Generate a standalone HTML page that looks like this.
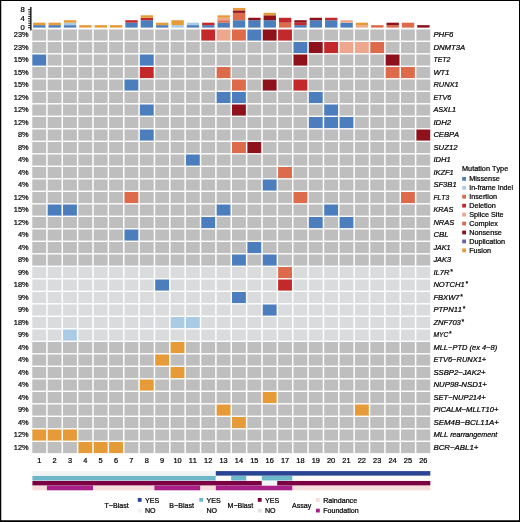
<!DOCTYPE html>
<html><head><meta charset="utf-8"><title>oncoprint</title>
<style>
html,body{margin:0;padding:0;background:#fff;}
body{width:520px;height:522px;overflow:hidden;position:relative;font-family:"Liberation Sans",sans-serif;}
svg{position:absolute;left:0;top:0;display:block;will-change:transform}
text{font-kerning:none;font-family:"Liberation Sans",sans-serif;font-size:7.4px;fill:#000;stroke:#000;stroke-width:0.22px}
.g{font-style:italic;font-size:7.6px}
.l{font-size:7.1px}
.t{font-size:7.3px}
</style></head><body>
<svg width="520" height="522" viewBox="0 0 520 522">
<rect x="0" y="0" width="520" height="522" fill="#fff"/>
<rect x="0" y="0" width="520" height="1" fill="#000"/><rect x="0" y="0" width="1.25" height="522" fill="#000"/><rect x="519" y="0" width="1" height="522" fill="#000"/><rect x="0" y="520.25" width="520" height="1.75" fill="#000"/>
<g stroke="#000" fill="none"><line x1="30.85" y1="7" x2="30.85" y2="30.6" stroke-width="1.3"/><line x1="28.0" y1="27.75" x2="30.5" y2="27.75" stroke-width="0.9"/><line x1="28.3" y1="25.49" x2="30.5" y2="25.49" stroke-width="0.9"/><line x1="28.3" y1="23.23" x2="30.5" y2="23.23" stroke-width="0.9"/><line x1="28.3" y1="20.97" x2="30.5" y2="20.97" stroke-width="0.9"/><line x1="28.0" y1="18.71" x2="30.5" y2="18.71" stroke-width="0.9"/><line x1="28.3" y1="16.45" x2="30.5" y2="16.45" stroke-width="0.9"/><line x1="28.3" y1="14.19" x2="30.5" y2="14.19" stroke-width="0.9"/><line x1="28.3" y1="11.93" x2="30.5" y2="11.93" stroke-width="0.9"/><line x1="28.0" y1="9.67" x2="30.5" y2="9.67" stroke-width="0.9"/></g>
<text x="24.7" y="30.35" text-anchor="end" style="font-size:7.7px">0</text><text x="24.7" y="21.31" text-anchor="end" style="font-size:7.7px">4</text><text x="24.7" y="12.27" text-anchor="end" style="font-size:7.7px">8</text><rect x="33.15" y="25.14" width="12.36" height="2.46" fill="#4c7dbd"/><rect x="33.15" y="22.68" width="12.36" height="2.46" fill="#e69a38"/><rect x="48.51" y="25.14" width="12.36" height="2.46" fill="#4c7dbd"/><rect x="48.51" y="22.68" width="12.36" height="2.46" fill="#e69a38"/><rect x="63.88" y="25.14" width="12.36" height="2.46" fill="#4c7dbd"/><rect x="63.88" y="22.68" width="12.36" height="2.46" fill="#a9cbe6"/><rect x="63.88" y="20.22" width="12.36" height="2.46" fill="#e69a38"/><rect x="79.24" y="25.14" width="12.36" height="2.46" fill="#e69a38"/><rect x="94.60" y="25.14" width="12.36" height="2.46" fill="#e69a38"/><rect x="109.96" y="25.14" width="12.36" height="2.46" fill="#e69a38"/><rect x="125.33" y="22.68" width="12.36" height="4.92" fill="#4c7dbd"/><rect x="125.33" y="20.22" width="12.36" height="2.46" fill="#c3292b"/><rect x="140.69" y="20.22" width="12.36" height="7.38" fill="#4c7dbd"/><rect x="140.69" y="17.76" width="12.36" height="2.46" fill="#c3292b"/><rect x="140.69" y="15.30" width="12.36" height="2.46" fill="#e69a38"/><rect x="156.05" y="25.14" width="12.36" height="2.46" fill="#4c7dbd"/><rect x="156.05" y="22.68" width="12.36" height="2.46" fill="#e69a38"/><rect x="171.42" y="25.14" width="12.36" height="2.46" fill="#a9cbe6"/><rect x="171.42" y="20.22" width="12.36" height="4.92" fill="#e69a38"/><rect x="186.78" y="25.14" width="12.36" height="2.46" fill="#4c7dbd"/><rect x="186.78" y="22.68" width="12.36" height="2.46" fill="#a9cbe6"/><rect x="202.14" y="25.14" width="12.36" height="2.46" fill="#4c7dbd"/><rect x="202.14" y="22.68" width="12.36" height="2.46" fill="#c3292b"/><rect x="217.51" y="22.68" width="12.36" height="4.92" fill="#4c7dbd"/><rect x="217.51" y="20.22" width="12.36" height="2.46" fill="#dd6a4b"/><rect x="217.51" y="17.76" width="12.36" height="2.46" fill="#eca78d"/><rect x="217.51" y="15.30" width="12.36" height="2.46" fill="#e69a38"/><rect x="232.87" y="20.22" width="12.36" height="7.38" fill="#4c7dbd"/><rect x="232.87" y="12.84" width="12.36" height="7.38" fill="#dd6a4b"/><rect x="232.87" y="10.38" width="12.36" height="2.46" fill="#8d121c"/><rect x="232.87" y="7.92" width="12.36" height="2.46" fill="#e69a38"/><rect x="248.23" y="20.22" width="12.36" height="7.38" fill="#4c7dbd"/><rect x="248.23" y="17.76" width="12.36" height="2.46" fill="#8d121c"/><rect x="263.60" y="20.22" width="12.36" height="7.38" fill="#4c7dbd"/><rect x="263.60" y="15.30" width="12.36" height="4.92" fill="#8d121c"/><rect x="263.60" y="12.84" width="12.36" height="2.46" fill="#e69a38"/><rect x="278.96" y="22.68" width="12.36" height="4.92" fill="#dd6a4b"/><rect x="278.96" y="17.76" width="12.36" height="4.92" fill="#c3292b"/><rect x="294.32" y="25.14" width="12.36" height="2.46" fill="#4c7dbd"/><rect x="294.32" y="22.68" width="12.36" height="2.46" fill="#c3292b"/><rect x="294.32" y="20.22" width="12.36" height="2.46" fill="#8d121c"/><rect x="309.68" y="20.22" width="12.36" height="7.38" fill="#4c7dbd"/><rect x="309.68" y="17.76" width="12.36" height="2.46" fill="#8d121c"/><rect x="325.05" y="20.22" width="12.36" height="7.38" fill="#4c7dbd"/><rect x="325.05" y="17.76" width="12.36" height="2.46" fill="#c3292b"/><rect x="340.41" y="22.68" width="12.36" height="4.92" fill="#4c7dbd"/><rect x="340.41" y="20.22" width="12.36" height="2.46" fill="#eca78d"/><rect x="355.77" y="25.14" width="12.36" height="2.46" fill="#eca78d"/><rect x="355.77" y="22.68" width="12.36" height="2.46" fill="#e69a38"/><rect x="371.14" y="25.14" width="12.36" height="2.46" fill="#dd6a4b"/><rect x="386.50" y="25.14" width="12.36" height="2.46" fill="#dd6a4b"/><rect x="386.50" y="22.68" width="12.36" height="2.46" fill="#8d121c"/><rect x="401.86" y="22.68" width="12.36" height="4.92" fill="#dd6a4b"/><rect x="417.23" y="25.14" width="12.36" height="2.46" fill="#8d121c"/>
<rect x="32.30" y="29.50" width="13.86" height="11.10" fill="#bebebe"/><rect x="47.66" y="29.50" width="13.86" height="11.10" fill="#bebebe"/><rect x="63.03" y="29.50" width="13.86" height="11.10" fill="#bebebe"/><rect x="78.39" y="29.50" width="13.86" height="11.10" fill="#bebebe"/><rect x="93.75" y="29.50" width="13.86" height="11.10" fill="#bebebe"/><rect x="109.11" y="29.50" width="13.86" height="11.10" fill="#bebebe"/><rect x="124.48" y="29.50" width="13.86" height="11.10" fill="#bebebe"/><rect x="139.84" y="29.50" width="13.86" height="11.10" fill="#bebebe"/><rect x="155.20" y="29.50" width="13.86" height="11.10" fill="#bebebe"/><rect x="170.57" y="29.50" width="13.86" height="11.10" fill="#bebebe"/><rect x="185.93" y="29.50" width="13.86" height="11.10" fill="#bebebe"/><rect x="201.29" y="29.50" width="13.86" height="11.10" fill="#c3292b"/><rect x="216.66" y="29.50" width="13.86" height="11.10" fill="#eca78d"/><rect x="232.02" y="29.50" width="13.86" height="11.10" fill="#dd6a4b"/><rect x="247.38" y="29.50" width="13.86" height="11.10" fill="#4c7dbd"/><rect x="262.75" y="29.50" width="13.86" height="11.10" fill="#8d121c"/><rect x="278.11" y="29.50" width="13.86" height="11.10" fill="#c3292b"/><rect x="293.47" y="29.50" width="13.86" height="11.10" fill="#bebebe"/><rect x="308.83" y="29.50" width="13.86" height="11.10" fill="#bebebe"/><rect x="324.20" y="29.50" width="13.86" height="11.10" fill="#bebebe"/><rect x="339.56" y="29.50" width="13.86" height="11.10" fill="#bebebe"/><rect x="354.92" y="29.50" width="13.86" height="11.10" fill="#bebebe"/><rect x="370.29" y="29.50" width="13.86" height="11.10" fill="#bebebe"/><rect x="385.65" y="29.50" width="13.86" height="11.10" fill="#bebebe"/><rect x="401.01" y="29.50" width="13.86" height="11.10" fill="#bebebe"/><rect x="416.38" y="29.50" width="13.86" height="11.10" fill="#bebebe"/><text x="28.6" y="37.05" text-anchor="end">23%</text><text class="g" x="433.4" y="37.05" textLength="19.83" lengthAdjust="spacingAndGlyphs">PHF6</text>
<rect x="32.30" y="42.00" width="13.86" height="11.10" fill="#bebebe"/><rect x="47.66" y="42.00" width="13.86" height="11.10" fill="#bebebe"/><rect x="63.03" y="42.00" width="13.86" height="11.10" fill="#bebebe"/><rect x="78.39" y="42.00" width="13.86" height="11.10" fill="#bebebe"/><rect x="93.75" y="42.00" width="13.86" height="11.10" fill="#bebebe"/><rect x="109.11" y="42.00" width="13.86" height="11.10" fill="#bebebe"/><rect x="124.48" y="42.00" width="13.86" height="11.10" fill="#bebebe"/><rect x="139.84" y="42.00" width="13.86" height="11.10" fill="#bebebe"/><rect x="155.20" y="42.00" width="13.86" height="11.10" fill="#bebebe"/><rect x="170.57" y="42.00" width="13.86" height="11.10" fill="#bebebe"/><rect x="185.93" y="42.00" width="13.86" height="11.10" fill="#bebebe"/><rect x="201.29" y="42.00" width="13.86" height="11.10" fill="#bebebe"/><rect x="216.66" y="42.00" width="13.86" height="11.10" fill="#bebebe"/><rect x="232.02" y="42.00" width="13.86" height="11.10" fill="#bebebe"/><rect x="247.38" y="42.00" width="13.86" height="11.10" fill="#bebebe"/><rect x="262.75" y="42.00" width="13.86" height="11.10" fill="#bebebe"/><rect x="278.11" y="42.00" width="13.86" height="11.10" fill="#bebebe"/><rect x="293.47" y="42.00" width="13.86" height="11.10" fill="#4c7dbd"/><rect x="308.83" y="42.00" width="13.86" height="11.10" fill="#8d121c"/><rect x="324.20" y="42.00" width="13.86" height="11.10" fill="#c3292b"/><rect x="339.56" y="42.00" width="13.86" height="11.10" fill="#eca78d"/><rect x="354.92" y="42.00" width="13.86" height="11.10" fill="#eca78d"/><rect x="370.29" y="42.00" width="13.86" height="11.10" fill="#dd6a4b"/><rect x="385.65" y="42.00" width="13.86" height="11.10" fill="#bebebe"/><rect x="401.01" y="42.00" width="13.86" height="11.10" fill="#bebebe"/><rect x="416.38" y="42.00" width="13.86" height="11.10" fill="#bebebe"/><text x="28.6" y="49.55" text-anchor="end">23%</text><text class="g" x="433.4" y="49.55" textLength="31.85" lengthAdjust="spacingAndGlyphs">DNMT3A</text>
<rect x="32.30" y="54.50" width="13.86" height="11.10" fill="#4c7dbd"/><rect x="47.66" y="54.50" width="13.86" height="11.10" fill="#bebebe"/><rect x="63.03" y="54.50" width="13.86" height="11.10" fill="#bebebe"/><rect x="78.39" y="54.50" width="13.86" height="11.10" fill="#bebebe"/><rect x="93.75" y="54.50" width="13.86" height="11.10" fill="#bebebe"/><rect x="109.11" y="54.50" width="13.86" height="11.10" fill="#bebebe"/><rect x="124.48" y="54.50" width="13.86" height="11.10" fill="#bebebe"/><rect x="139.84" y="54.50" width="13.86" height="11.10" fill="#4c7dbd"/><rect x="155.20" y="54.50" width="13.86" height="11.10" fill="#bebebe"/><rect x="170.57" y="54.50" width="13.86" height="11.10" fill="#bebebe"/><rect x="185.93" y="54.50" width="13.86" height="11.10" fill="#bebebe"/><rect x="201.29" y="54.50" width="13.86" height="11.10" fill="#bebebe"/><rect x="216.66" y="54.50" width="13.86" height="11.10" fill="#bebebe"/><rect x="232.02" y="54.50" width="13.86" height="11.10" fill="#bebebe"/><rect x="247.38" y="54.50" width="13.86" height="11.10" fill="#bebebe"/><rect x="262.75" y="54.50" width="13.86" height="11.10" fill="#bebebe"/><rect x="278.11" y="54.50" width="13.86" height="11.10" fill="#bebebe"/><rect x="293.47" y="54.50" width="13.86" height="11.10" fill="#8d121c"/><rect x="308.83" y="54.50" width="13.86" height="11.10" fill="#bebebe"/><rect x="324.20" y="54.50" width="13.86" height="11.10" fill="#bebebe"/><rect x="339.56" y="54.50" width="13.86" height="11.10" fill="#bebebe"/><rect x="354.92" y="54.50" width="13.86" height="11.10" fill="#bebebe"/><rect x="370.29" y="54.50" width="13.86" height="11.10" fill="#bebebe"/><rect x="385.65" y="54.50" width="13.86" height="11.10" fill="#8d121c"/><rect x="401.01" y="54.50" width="13.86" height="11.10" fill="#bebebe"/><rect x="416.38" y="54.50" width="13.86" height="11.10" fill="#bebebe"/><text x="28.6" y="62.05" text-anchor="end">15%</text><text class="g" x="433.4" y="62.05" textLength="17.08" lengthAdjust="spacingAndGlyphs">TET2</text>
<rect x="32.30" y="67.00" width="13.86" height="11.10" fill="#bebebe"/><rect x="47.66" y="67.00" width="13.86" height="11.10" fill="#bebebe"/><rect x="63.03" y="67.00" width="13.86" height="11.10" fill="#bebebe"/><rect x="78.39" y="67.00" width="13.86" height="11.10" fill="#bebebe"/><rect x="93.75" y="67.00" width="13.86" height="11.10" fill="#bebebe"/><rect x="109.11" y="67.00" width="13.86" height="11.10" fill="#bebebe"/><rect x="124.48" y="67.00" width="13.86" height="11.10" fill="#bebebe"/><rect x="139.84" y="67.00" width="13.86" height="11.10" fill="#c3292b"/><rect x="155.20" y="67.00" width="13.86" height="11.10" fill="#bebebe"/><rect x="170.57" y="67.00" width="13.86" height="11.10" fill="#bebebe"/><rect x="185.93" y="67.00" width="13.86" height="11.10" fill="#bebebe"/><rect x="201.29" y="67.00" width="13.86" height="11.10" fill="#bebebe"/><rect x="216.66" y="67.00" width="13.86" height="11.10" fill="#dd6a4b"/><rect x="232.02" y="67.00" width="13.86" height="11.10" fill="#bebebe"/><rect x="247.38" y="67.00" width="13.86" height="11.10" fill="#bebebe"/><rect x="262.75" y="67.00" width="13.86" height="11.10" fill="#bebebe"/><rect x="278.11" y="67.00" width="13.86" height="11.10" fill="#bebebe"/><rect x="293.47" y="67.00" width="13.86" height="11.10" fill="#bebebe"/><rect x="308.83" y="67.00" width="13.86" height="11.10" fill="#bebebe"/><rect x="324.20" y="67.00" width="13.86" height="11.10" fill="#bebebe"/><rect x="339.56" y="67.00" width="13.86" height="11.10" fill="#bebebe"/><rect x="354.92" y="67.00" width="13.86" height="11.10" fill="#bebebe"/><rect x="370.29" y="67.00" width="13.86" height="11.10" fill="#bebebe"/><rect x="385.65" y="67.00" width="13.86" height="11.10" fill="#dd6a4b"/><rect x="401.01" y="67.00" width="13.86" height="11.10" fill="#dd6a4b"/><rect x="416.38" y="67.00" width="13.86" height="11.10" fill="#bebebe"/><text x="28.6" y="74.55" text-anchor="end">15%</text><text class="g" x="433.4" y="74.55">WT1</text>
<rect x="32.30" y="79.50" width="13.86" height="11.10" fill="#bebebe"/><rect x="47.66" y="79.50" width="13.86" height="11.10" fill="#bebebe"/><rect x="63.03" y="79.50" width="13.86" height="11.10" fill="#bebebe"/><rect x="78.39" y="79.50" width="13.86" height="11.10" fill="#bebebe"/><rect x="93.75" y="79.50" width="13.86" height="11.10" fill="#bebebe"/><rect x="109.11" y="79.50" width="13.86" height="11.10" fill="#bebebe"/><rect x="124.48" y="79.50" width="13.86" height="11.10" fill="#4c7dbd"/><rect x="139.84" y="79.50" width="13.86" height="11.10" fill="#bebebe"/><rect x="155.20" y="79.50" width="13.86" height="11.10" fill="#bebebe"/><rect x="170.57" y="79.50" width="13.86" height="11.10" fill="#bebebe"/><rect x="185.93" y="79.50" width="13.86" height="11.10" fill="#bebebe"/><rect x="201.29" y="79.50" width="13.86" height="11.10" fill="#bebebe"/><rect x="216.66" y="79.50" width="13.86" height="11.10" fill="#bebebe"/><rect x="232.02" y="79.50" width="13.86" height="11.10" fill="#dd6a4b"/><rect x="247.38" y="79.50" width="13.86" height="11.10" fill="#bebebe"/><rect x="262.75" y="79.50" width="13.86" height="11.10" fill="#8d121c"/><rect x="278.11" y="79.50" width="13.86" height="11.10" fill="#bebebe"/><rect x="293.47" y="79.50" width="13.86" height="11.10" fill="#c3292b"/><rect x="308.83" y="79.50" width="13.86" height="11.10" fill="#bebebe"/><rect x="324.20" y="79.50" width="13.86" height="11.10" fill="#bebebe"/><rect x="339.56" y="79.50" width="13.86" height="11.10" fill="#bebebe"/><rect x="354.92" y="79.50" width="13.86" height="11.10" fill="#bebebe"/><rect x="370.29" y="79.50" width="13.86" height="11.10" fill="#bebebe"/><rect x="385.65" y="79.50" width="13.86" height="11.10" fill="#bebebe"/><rect x="401.01" y="79.50" width="13.86" height="11.10" fill="#bebebe"/><rect x="416.38" y="79.50" width="13.86" height="11.10" fill="#bebebe"/><text x="28.6" y="87.05" text-anchor="end">15%</text><text class="g" x="433.4" y="87.05" textLength="25.36" lengthAdjust="spacingAndGlyphs">RUNX1</text>
<rect x="32.30" y="92.00" width="13.86" height="11.10" fill="#bebebe"/><rect x="47.66" y="92.00" width="13.86" height="11.10" fill="#bebebe"/><rect x="63.03" y="92.00" width="13.86" height="11.10" fill="#bebebe"/><rect x="78.39" y="92.00" width="13.86" height="11.10" fill="#bebebe"/><rect x="93.75" y="92.00" width="13.86" height="11.10" fill="#bebebe"/><rect x="109.11" y="92.00" width="13.86" height="11.10" fill="#bebebe"/><rect x="124.48" y="92.00" width="13.86" height="11.10" fill="#bebebe"/><rect x="139.84" y="92.00" width="13.86" height="11.10" fill="#bebebe"/><rect x="155.20" y="92.00" width="13.86" height="11.10" fill="#bebebe"/><rect x="170.57" y="92.00" width="13.86" height="11.10" fill="#bebebe"/><rect x="185.93" y="92.00" width="13.86" height="11.10" fill="#bebebe"/><rect x="201.29" y="92.00" width="13.86" height="11.10" fill="#bebebe"/><rect x="216.66" y="92.00" width="13.86" height="11.10" fill="#4c7dbd"/><rect x="232.02" y="92.00" width="13.86" height="11.10" fill="#4c7dbd"/><rect x="247.38" y="92.00" width="13.86" height="11.10" fill="#bebebe"/><rect x="262.75" y="92.00" width="13.86" height="11.10" fill="#bebebe"/><rect x="278.11" y="92.00" width="13.86" height="11.10" fill="#bebebe"/><rect x="293.47" y="92.00" width="13.86" height="11.10" fill="#bebebe"/><rect x="308.83" y="92.00" width="13.86" height="11.10" fill="#4c7dbd"/><rect x="324.20" y="92.00" width="13.86" height="11.10" fill="#bebebe"/><rect x="339.56" y="92.00" width="13.86" height="11.10" fill="#bebebe"/><rect x="354.92" y="92.00" width="13.86" height="11.10" fill="#bebebe"/><rect x="370.29" y="92.00" width="13.86" height="11.10" fill="#bebebe"/><rect x="385.65" y="92.00" width="13.86" height="11.10" fill="#bebebe"/><rect x="401.01" y="92.00" width="13.86" height="11.10" fill="#bebebe"/><rect x="416.38" y="92.00" width="13.86" height="11.10" fill="#bebebe"/><text x="28.6" y="99.55" text-anchor="end">12%</text><text class="g" x="433.4" y="99.55" textLength="17.71" lengthAdjust="spacingAndGlyphs">ETV6</text>
<rect x="32.30" y="104.50" width="13.86" height="11.10" fill="#bebebe"/><rect x="47.66" y="104.50" width="13.86" height="11.10" fill="#bebebe"/><rect x="63.03" y="104.50" width="13.86" height="11.10" fill="#bebebe"/><rect x="78.39" y="104.50" width="13.86" height="11.10" fill="#bebebe"/><rect x="93.75" y="104.50" width="13.86" height="11.10" fill="#bebebe"/><rect x="109.11" y="104.50" width="13.86" height="11.10" fill="#bebebe"/><rect x="124.48" y="104.50" width="13.86" height="11.10" fill="#bebebe"/><rect x="139.84" y="104.50" width="13.86" height="11.10" fill="#4c7dbd"/><rect x="155.20" y="104.50" width="13.86" height="11.10" fill="#bebebe"/><rect x="170.57" y="104.50" width="13.86" height="11.10" fill="#bebebe"/><rect x="185.93" y="104.50" width="13.86" height="11.10" fill="#bebebe"/><rect x="201.29" y="104.50" width="13.86" height="11.10" fill="#bebebe"/><rect x="216.66" y="104.50" width="13.86" height="11.10" fill="#bebebe"/><rect x="232.02" y="104.50" width="13.86" height="11.10" fill="#8d121c"/><rect x="247.38" y="104.50" width="13.86" height="11.10" fill="#bebebe"/><rect x="262.75" y="104.50" width="13.86" height="11.10" fill="#bebebe"/><rect x="278.11" y="104.50" width="13.86" height="11.10" fill="#bebebe"/><rect x="293.47" y="104.50" width="13.86" height="11.10" fill="#bebebe"/><rect x="308.83" y="104.50" width="13.86" height="11.10" fill="#bebebe"/><rect x="324.20" y="104.50" width="13.86" height="11.10" fill="#4c7dbd"/><rect x="339.56" y="104.50" width="13.86" height="11.10" fill="#bebebe"/><rect x="354.92" y="104.50" width="13.86" height="11.10" fill="#bebebe"/><rect x="370.29" y="104.50" width="13.86" height="11.10" fill="#bebebe"/><rect x="385.65" y="104.50" width="13.86" height="11.10" fill="#bebebe"/><rect x="401.01" y="104.50" width="13.86" height="11.10" fill="#bebebe"/><rect x="416.38" y="104.50" width="13.86" height="11.10" fill="#bebebe"/><text x="28.6" y="112.05" text-anchor="end">12%</text><text class="g" x="433.4" y="112.05" textLength="22.66" lengthAdjust="spacingAndGlyphs">ASXL1</text>
<rect x="32.30" y="117.00" width="13.86" height="11.10" fill="#bebebe"/><rect x="47.66" y="117.00" width="13.86" height="11.10" fill="#bebebe"/><rect x="63.03" y="117.00" width="13.86" height="11.10" fill="#bebebe"/><rect x="78.39" y="117.00" width="13.86" height="11.10" fill="#bebebe"/><rect x="93.75" y="117.00" width="13.86" height="11.10" fill="#bebebe"/><rect x="109.11" y="117.00" width="13.86" height="11.10" fill="#bebebe"/><rect x="124.48" y="117.00" width="13.86" height="11.10" fill="#bebebe"/><rect x="139.84" y="117.00" width="13.86" height="11.10" fill="#bebebe"/><rect x="155.20" y="117.00" width="13.86" height="11.10" fill="#bebebe"/><rect x="170.57" y="117.00" width="13.86" height="11.10" fill="#bebebe"/><rect x="185.93" y="117.00" width="13.86" height="11.10" fill="#bebebe"/><rect x="201.29" y="117.00" width="13.86" height="11.10" fill="#bebebe"/><rect x="216.66" y="117.00" width="13.86" height="11.10" fill="#bebebe"/><rect x="232.02" y="117.00" width="13.86" height="11.10" fill="#bebebe"/><rect x="247.38" y="117.00" width="13.86" height="11.10" fill="#bebebe"/><rect x="262.75" y="117.00" width="13.86" height="11.10" fill="#bebebe"/><rect x="278.11" y="117.00" width="13.86" height="11.10" fill="#bebebe"/><rect x="293.47" y="117.00" width="13.86" height="11.10" fill="#bebebe"/><rect x="308.83" y="117.00" width="13.86" height="11.10" fill="#4c7dbd"/><rect x="324.20" y="117.00" width="13.86" height="11.10" fill="#4c7dbd"/><rect x="339.56" y="117.00" width="13.86" height="11.10" fill="#4c7dbd"/><rect x="354.92" y="117.00" width="13.86" height="11.10" fill="#bebebe"/><rect x="370.29" y="117.00" width="13.86" height="11.10" fill="#bebebe"/><rect x="385.65" y="117.00" width="13.86" height="11.10" fill="#bebebe"/><rect x="401.01" y="117.00" width="13.86" height="11.10" fill="#bebebe"/><rect x="416.38" y="117.00" width="13.86" height="11.10" fill="#bebebe"/><text x="28.6" y="124.55" text-anchor="end">12%</text><text class="g" x="433.4" y="124.55" textLength="17.72" lengthAdjust="spacingAndGlyphs">IDH2</text>
<rect x="32.30" y="129.50" width="13.86" height="11.10" fill="#bebebe"/><rect x="47.66" y="129.50" width="13.86" height="11.10" fill="#bebebe"/><rect x="63.03" y="129.50" width="13.86" height="11.10" fill="#bebebe"/><rect x="78.39" y="129.50" width="13.86" height="11.10" fill="#bebebe"/><rect x="93.75" y="129.50" width="13.86" height="11.10" fill="#bebebe"/><rect x="109.11" y="129.50" width="13.86" height="11.10" fill="#bebebe"/><rect x="124.48" y="129.50" width="13.86" height="11.10" fill="#bebebe"/><rect x="139.84" y="129.50" width="13.86" height="11.10" fill="#4c7dbd"/><rect x="155.20" y="129.50" width="13.86" height="11.10" fill="#bebebe"/><rect x="170.57" y="129.50" width="13.86" height="11.10" fill="#bebebe"/><rect x="185.93" y="129.50" width="13.86" height="11.10" fill="#bebebe"/><rect x="201.29" y="129.50" width="13.86" height="11.10" fill="#bebebe"/><rect x="216.66" y="129.50" width="13.86" height="11.10" fill="#bebebe"/><rect x="232.02" y="129.50" width="13.86" height="11.10" fill="#bebebe"/><rect x="247.38" y="129.50" width="13.86" height="11.10" fill="#bebebe"/><rect x="262.75" y="129.50" width="13.86" height="11.10" fill="#bebebe"/><rect x="278.11" y="129.50" width="13.86" height="11.10" fill="#bebebe"/><rect x="293.47" y="129.50" width="13.86" height="11.10" fill="#bebebe"/><rect x="308.83" y="129.50" width="13.86" height="11.10" fill="#bebebe"/><rect x="324.20" y="129.50" width="13.86" height="11.10" fill="#bebebe"/><rect x="339.56" y="129.50" width="13.86" height="11.10" fill="#bebebe"/><rect x="354.92" y="129.50" width="13.86" height="11.10" fill="#bebebe"/><rect x="370.29" y="129.50" width="13.86" height="11.10" fill="#bebebe"/><rect x="385.65" y="129.50" width="13.86" height="11.10" fill="#bebebe"/><rect x="401.01" y="129.50" width="13.86" height="11.10" fill="#bebebe"/><rect x="416.38" y="129.50" width="13.86" height="11.10" fill="#8d121c"/><text x="28.6" y="137.05" text-anchor="end">8%</text><text class="g" x="433.4" y="137.05">CEBPA</text>
<rect x="32.30" y="142.00" width="13.86" height="11.10" fill="#bebebe"/><rect x="47.66" y="142.00" width="13.86" height="11.10" fill="#bebebe"/><rect x="63.03" y="142.00" width="13.86" height="11.10" fill="#bebebe"/><rect x="78.39" y="142.00" width="13.86" height="11.10" fill="#bebebe"/><rect x="93.75" y="142.00" width="13.86" height="11.10" fill="#bebebe"/><rect x="109.11" y="142.00" width="13.86" height="11.10" fill="#bebebe"/><rect x="124.48" y="142.00" width="13.86" height="11.10" fill="#bebebe"/><rect x="139.84" y="142.00" width="13.86" height="11.10" fill="#bebebe"/><rect x="155.20" y="142.00" width="13.86" height="11.10" fill="#bebebe"/><rect x="170.57" y="142.00" width="13.86" height="11.10" fill="#bebebe"/><rect x="185.93" y="142.00" width="13.86" height="11.10" fill="#bebebe"/><rect x="201.29" y="142.00" width="13.86" height="11.10" fill="#bebebe"/><rect x="216.66" y="142.00" width="13.86" height="11.10" fill="#bebebe"/><rect x="232.02" y="142.00" width="13.86" height="11.10" fill="#dd6a4b"/><rect x="247.38" y="142.00" width="13.86" height="11.10" fill="#8d121c"/><rect x="262.75" y="142.00" width="13.86" height="11.10" fill="#bebebe"/><rect x="278.11" y="142.00" width="13.86" height="11.10" fill="#bebebe"/><rect x="293.47" y="142.00" width="13.86" height="11.10" fill="#bebebe"/><rect x="308.83" y="142.00" width="13.86" height="11.10" fill="#bebebe"/><rect x="324.20" y="142.00" width="13.86" height="11.10" fill="#bebebe"/><rect x="339.56" y="142.00" width="13.86" height="11.10" fill="#bebebe"/><rect x="354.92" y="142.00" width="13.86" height="11.10" fill="#bebebe"/><rect x="370.29" y="142.00" width="13.86" height="11.10" fill="#bebebe"/><rect x="385.65" y="142.00" width="13.86" height="11.10" fill="#bebebe"/><rect x="401.01" y="142.00" width="13.86" height="11.10" fill="#bebebe"/><rect x="416.38" y="142.00" width="13.86" height="11.10" fill="#bebebe"/><text x="28.6" y="149.55" text-anchor="end">8%</text><text class="g" x="433.4" y="149.55" textLength="24.25" lengthAdjust="spacingAndGlyphs">SUZ12</text>
<rect x="32.30" y="154.50" width="13.86" height="11.10" fill="#bebebe"/><rect x="47.66" y="154.50" width="13.86" height="11.10" fill="#bebebe"/><rect x="63.03" y="154.50" width="13.86" height="11.10" fill="#bebebe"/><rect x="78.39" y="154.50" width="13.86" height="11.10" fill="#bebebe"/><rect x="93.75" y="154.50" width="13.86" height="11.10" fill="#bebebe"/><rect x="109.11" y="154.50" width="13.86" height="11.10" fill="#bebebe"/><rect x="124.48" y="154.50" width="13.86" height="11.10" fill="#bebebe"/><rect x="139.84" y="154.50" width="13.86" height="11.10" fill="#bebebe"/><rect x="155.20" y="154.50" width="13.86" height="11.10" fill="#bebebe"/><rect x="170.57" y="154.50" width="13.86" height="11.10" fill="#bebebe"/><rect x="185.93" y="154.50" width="13.86" height="11.10" fill="#4c7dbd"/><rect x="201.29" y="154.50" width="13.86" height="11.10" fill="#bebebe"/><rect x="216.66" y="154.50" width="13.86" height="11.10" fill="#bebebe"/><rect x="232.02" y="154.50" width="13.86" height="11.10" fill="#bebebe"/><rect x="247.38" y="154.50" width="13.86" height="11.10" fill="#bebebe"/><rect x="262.75" y="154.50" width="13.86" height="11.10" fill="#bebebe"/><rect x="278.11" y="154.50" width="13.86" height="11.10" fill="#bebebe"/><rect x="293.47" y="154.50" width="13.86" height="11.10" fill="#bebebe"/><rect x="308.83" y="154.50" width="13.86" height="11.10" fill="#bebebe"/><rect x="324.20" y="154.50" width="13.86" height="11.10" fill="#bebebe"/><rect x="339.56" y="154.50" width="13.86" height="11.10" fill="#bebebe"/><rect x="354.92" y="154.50" width="13.86" height="11.10" fill="#bebebe"/><rect x="370.29" y="154.50" width="13.86" height="11.10" fill="#bebebe"/><rect x="385.65" y="154.50" width="13.86" height="11.10" fill="#bebebe"/><rect x="401.01" y="154.50" width="13.86" height="11.10" fill="#bebebe"/><rect x="416.38" y="154.50" width="13.86" height="11.10" fill="#bebebe"/><text x="28.6" y="162.05" text-anchor="end">4%</text><text class="g" x="433.4" y="162.05">IDH1</text>
<rect x="32.30" y="167.00" width="13.86" height="11.10" fill="#bebebe"/><rect x="47.66" y="167.00" width="13.86" height="11.10" fill="#bebebe"/><rect x="63.03" y="167.00" width="13.86" height="11.10" fill="#bebebe"/><rect x="78.39" y="167.00" width="13.86" height="11.10" fill="#bebebe"/><rect x="93.75" y="167.00" width="13.86" height="11.10" fill="#bebebe"/><rect x="109.11" y="167.00" width="13.86" height="11.10" fill="#bebebe"/><rect x="124.48" y="167.00" width="13.86" height="11.10" fill="#bebebe"/><rect x="139.84" y="167.00" width="13.86" height="11.10" fill="#bebebe"/><rect x="155.20" y="167.00" width="13.86" height="11.10" fill="#bebebe"/><rect x="170.57" y="167.00" width="13.86" height="11.10" fill="#bebebe"/><rect x="185.93" y="167.00" width="13.86" height="11.10" fill="#bebebe"/><rect x="201.29" y="167.00" width="13.86" height="11.10" fill="#bebebe"/><rect x="216.66" y="167.00" width="13.86" height="11.10" fill="#bebebe"/><rect x="232.02" y="167.00" width="13.86" height="11.10" fill="#bebebe"/><rect x="247.38" y="167.00" width="13.86" height="11.10" fill="#bebebe"/><rect x="262.75" y="167.00" width="13.86" height="11.10" fill="#bebebe"/><rect x="278.11" y="167.00" width="13.86" height="11.10" fill="#dd6a4b"/><rect x="293.47" y="167.00" width="13.86" height="11.10" fill="#bebebe"/><rect x="308.83" y="167.00" width="13.86" height="11.10" fill="#bebebe"/><rect x="324.20" y="167.00" width="13.86" height="11.10" fill="#bebebe"/><rect x="339.56" y="167.00" width="13.86" height="11.10" fill="#bebebe"/><rect x="354.92" y="167.00" width="13.86" height="11.10" fill="#bebebe"/><rect x="370.29" y="167.00" width="13.86" height="11.10" fill="#bebebe"/><rect x="385.65" y="167.00" width="13.86" height="11.10" fill="#bebebe"/><rect x="401.01" y="167.00" width="13.86" height="11.10" fill="#bebebe"/><rect x="416.38" y="167.00" width="13.86" height="11.10" fill="#bebebe"/><text x="28.6" y="174.55" text-anchor="end">4%</text><text class="g" x="433.4" y="174.55" textLength="20.29" lengthAdjust="spacingAndGlyphs">IKZF1</text>
<rect x="32.30" y="179.50" width="13.86" height="11.10" fill="#bebebe"/><rect x="47.66" y="179.50" width="13.86" height="11.10" fill="#bebebe"/><rect x="63.03" y="179.50" width="13.86" height="11.10" fill="#bebebe"/><rect x="78.39" y="179.50" width="13.86" height="11.10" fill="#bebebe"/><rect x="93.75" y="179.50" width="13.86" height="11.10" fill="#bebebe"/><rect x="109.11" y="179.50" width="13.86" height="11.10" fill="#bebebe"/><rect x="124.48" y="179.50" width="13.86" height="11.10" fill="#bebebe"/><rect x="139.84" y="179.50" width="13.86" height="11.10" fill="#bebebe"/><rect x="155.20" y="179.50" width="13.86" height="11.10" fill="#bebebe"/><rect x="170.57" y="179.50" width="13.86" height="11.10" fill="#bebebe"/><rect x="185.93" y="179.50" width="13.86" height="11.10" fill="#bebebe"/><rect x="201.29" y="179.50" width="13.86" height="11.10" fill="#bebebe"/><rect x="216.66" y="179.50" width="13.86" height="11.10" fill="#bebebe"/><rect x="232.02" y="179.50" width="13.86" height="11.10" fill="#bebebe"/><rect x="247.38" y="179.50" width="13.86" height="11.10" fill="#bebebe"/><rect x="262.75" y="179.50" width="13.86" height="11.10" fill="#4c7dbd"/><rect x="278.11" y="179.50" width="13.86" height="11.10" fill="#bebebe"/><rect x="293.47" y="179.50" width="13.86" height="11.10" fill="#bebebe"/><rect x="308.83" y="179.50" width="13.86" height="11.10" fill="#bebebe"/><rect x="324.20" y="179.50" width="13.86" height="11.10" fill="#bebebe"/><rect x="339.56" y="179.50" width="13.86" height="11.10" fill="#bebebe"/><rect x="354.92" y="179.50" width="13.86" height="11.10" fill="#bebebe"/><rect x="370.29" y="179.50" width="13.86" height="11.10" fill="#bebebe"/><rect x="385.65" y="179.50" width="13.86" height="11.10" fill="#bebebe"/><rect x="401.01" y="179.50" width="13.86" height="11.10" fill="#bebebe"/><rect x="416.38" y="179.50" width="13.86" height="11.10" fill="#bebebe"/><text x="28.6" y="187.05" text-anchor="end">4%</text><text class="g" x="433.4" y="187.05">SF3B1</text>
<rect x="32.30" y="192.00" width="13.86" height="11.10" fill="#bebebe"/><rect x="47.66" y="192.00" width="13.86" height="11.10" fill="#bebebe"/><rect x="63.03" y="192.00" width="13.86" height="11.10" fill="#bebebe"/><rect x="78.39" y="192.00" width="13.86" height="11.10" fill="#bebebe"/><rect x="93.75" y="192.00" width="13.86" height="11.10" fill="#bebebe"/><rect x="109.11" y="192.00" width="13.86" height="11.10" fill="#bebebe"/><rect x="124.48" y="192.00" width="13.86" height="11.10" fill="#dd6a4b"/><rect x="139.84" y="192.00" width="13.86" height="11.10" fill="#bebebe"/><rect x="155.20" y="192.00" width="13.86" height="11.10" fill="#bebebe"/><rect x="170.57" y="192.00" width="13.86" height="11.10" fill="#bebebe"/><rect x="185.93" y="192.00" width="13.86" height="11.10" fill="#bebebe"/><rect x="201.29" y="192.00" width="13.86" height="11.10" fill="#bebebe"/><rect x="216.66" y="192.00" width="13.86" height="11.10" fill="#bebebe"/><rect x="232.02" y="192.00" width="13.86" height="11.10" fill="#bebebe"/><rect x="247.38" y="192.00" width="13.86" height="11.10" fill="#bebebe"/><rect x="262.75" y="192.00" width="13.86" height="11.10" fill="#bebebe"/><rect x="278.11" y="192.00" width="13.86" height="11.10" fill="#bebebe"/><rect x="293.47" y="192.00" width="13.86" height="11.10" fill="#dd6a4b"/><rect x="308.83" y="192.00" width="13.86" height="11.10" fill="#bebebe"/><rect x="324.20" y="192.00" width="13.86" height="11.10" fill="#bebebe"/><rect x="339.56" y="192.00" width="13.86" height="11.10" fill="#bebebe"/><rect x="354.92" y="192.00" width="13.86" height="11.10" fill="#bebebe"/><rect x="370.29" y="192.00" width="13.86" height="11.10" fill="#bebebe"/><rect x="385.65" y="192.00" width="13.86" height="11.10" fill="#bebebe"/><rect x="401.01" y="192.00" width="13.86" height="11.10" fill="#dd6a4b"/><rect x="416.38" y="192.00" width="13.86" height="11.10" fill="#bebebe"/><text x="28.6" y="199.55" text-anchor="end">12%</text><text class="g" x="433.4" y="199.55" textLength="15.84" lengthAdjust="spacingAndGlyphs">FLT3</text>
<rect x="32.30" y="204.50" width="13.86" height="11.10" fill="#bebebe"/><rect x="47.66" y="204.50" width="13.86" height="11.10" fill="#4c7dbd"/><rect x="63.03" y="204.50" width="13.86" height="11.10" fill="#4c7dbd"/><rect x="78.39" y="204.50" width="13.86" height="11.10" fill="#bebebe"/><rect x="93.75" y="204.50" width="13.86" height="11.10" fill="#bebebe"/><rect x="109.11" y="204.50" width="13.86" height="11.10" fill="#bebebe"/><rect x="124.48" y="204.50" width="13.86" height="11.10" fill="#bebebe"/><rect x="139.84" y="204.50" width="13.86" height="11.10" fill="#bebebe"/><rect x="155.20" y="204.50" width="13.86" height="11.10" fill="#bebebe"/><rect x="170.57" y="204.50" width="13.86" height="11.10" fill="#bebebe"/><rect x="185.93" y="204.50" width="13.86" height="11.10" fill="#bebebe"/><rect x="201.29" y="204.50" width="13.86" height="11.10" fill="#bebebe"/><rect x="216.66" y="204.50" width="13.86" height="11.10" fill="#4c7dbd"/><rect x="232.02" y="204.50" width="13.86" height="11.10" fill="#bebebe"/><rect x="247.38" y="204.50" width="13.86" height="11.10" fill="#bebebe"/><rect x="262.75" y="204.50" width="13.86" height="11.10" fill="#bebebe"/><rect x="278.11" y="204.50" width="13.86" height="11.10" fill="#bebebe"/><rect x="293.47" y="204.50" width="13.86" height="11.10" fill="#bebebe"/><rect x="308.83" y="204.50" width="13.86" height="11.10" fill="#bebebe"/><rect x="324.20" y="204.50" width="13.86" height="11.10" fill="#4c7dbd"/><rect x="339.56" y="204.50" width="13.86" height="11.10" fill="#bebebe"/><rect x="354.92" y="204.50" width="13.86" height="11.10" fill="#bebebe"/><rect x="370.29" y="204.50" width="13.86" height="11.10" fill="#bebebe"/><rect x="385.65" y="204.50" width="13.86" height="11.10" fill="#bebebe"/><rect x="401.01" y="204.50" width="13.86" height="11.10" fill="#bebebe"/><rect x="416.38" y="204.50" width="13.86" height="11.10" fill="#bebebe"/><text x="28.6" y="212.05" text-anchor="end">15%</text><text class="g" x="433.4" y="212.05" textLength="19.90" lengthAdjust="spacingAndGlyphs">KRAS</text>
<rect x="32.30" y="217.00" width="13.86" height="11.10" fill="#bebebe"/><rect x="47.66" y="217.00" width="13.86" height="11.10" fill="#bebebe"/><rect x="63.03" y="217.00" width="13.86" height="11.10" fill="#bebebe"/><rect x="78.39" y="217.00" width="13.86" height="11.10" fill="#bebebe"/><rect x="93.75" y="217.00" width="13.86" height="11.10" fill="#bebebe"/><rect x="109.11" y="217.00" width="13.86" height="11.10" fill="#bebebe"/><rect x="124.48" y="217.00" width="13.86" height="11.10" fill="#bebebe"/><rect x="139.84" y="217.00" width="13.86" height="11.10" fill="#bebebe"/><rect x="155.20" y="217.00" width="13.86" height="11.10" fill="#bebebe"/><rect x="170.57" y="217.00" width="13.86" height="11.10" fill="#bebebe"/><rect x="185.93" y="217.00" width="13.86" height="11.10" fill="#bebebe"/><rect x="201.29" y="217.00" width="13.86" height="11.10" fill="#4c7dbd"/><rect x="216.66" y="217.00" width="13.86" height="11.10" fill="#bebebe"/><rect x="232.02" y="217.00" width="13.86" height="11.10" fill="#bebebe"/><rect x="247.38" y="217.00" width="13.86" height="11.10" fill="#bebebe"/><rect x="262.75" y="217.00" width="13.86" height="11.10" fill="#bebebe"/><rect x="278.11" y="217.00" width="13.86" height="11.10" fill="#bebebe"/><rect x="293.47" y="217.00" width="13.86" height="11.10" fill="#bebebe"/><rect x="308.83" y="217.00" width="13.86" height="11.10" fill="#4c7dbd"/><rect x="324.20" y="217.00" width="13.86" height="11.10" fill="#bebebe"/><rect x="339.56" y="217.00" width="13.86" height="11.10" fill="#4c7dbd"/><rect x="354.92" y="217.00" width="13.86" height="11.10" fill="#bebebe"/><rect x="370.29" y="217.00" width="13.86" height="11.10" fill="#bebebe"/><rect x="385.65" y="217.00" width="13.86" height="11.10" fill="#bebebe"/><rect x="401.01" y="217.00" width="13.86" height="11.10" fill="#bebebe"/><rect x="416.38" y="217.00" width="13.86" height="11.10" fill="#bebebe"/><text x="28.6" y="224.55" text-anchor="end">12%</text><text class="g" x="433.4" y="224.55" textLength="20.72" lengthAdjust="spacingAndGlyphs">NRAS</text>
<rect x="32.30" y="229.50" width="13.86" height="11.10" fill="#bebebe"/><rect x="47.66" y="229.50" width="13.86" height="11.10" fill="#bebebe"/><rect x="63.03" y="229.50" width="13.86" height="11.10" fill="#bebebe"/><rect x="78.39" y="229.50" width="13.86" height="11.10" fill="#bebebe"/><rect x="93.75" y="229.50" width="13.86" height="11.10" fill="#bebebe"/><rect x="109.11" y="229.50" width="13.86" height="11.10" fill="#bebebe"/><rect x="124.48" y="229.50" width="13.86" height="11.10" fill="#4c7dbd"/><rect x="139.84" y="229.50" width="13.86" height="11.10" fill="#bebebe"/><rect x="155.20" y="229.50" width="13.86" height="11.10" fill="#bebebe"/><rect x="170.57" y="229.50" width="13.86" height="11.10" fill="#bebebe"/><rect x="185.93" y="229.50" width="13.86" height="11.10" fill="#bebebe"/><rect x="201.29" y="229.50" width="13.86" height="11.10" fill="#bebebe"/><rect x="216.66" y="229.50" width="13.86" height="11.10" fill="#bebebe"/><rect x="232.02" y="229.50" width="13.86" height="11.10" fill="#bebebe"/><rect x="247.38" y="229.50" width="13.86" height="11.10" fill="#bebebe"/><rect x="262.75" y="229.50" width="13.86" height="11.10" fill="#bebebe"/><rect x="278.11" y="229.50" width="13.86" height="11.10" fill="#bebebe"/><rect x="293.47" y="229.50" width="13.86" height="11.10" fill="#bebebe"/><rect x="308.83" y="229.50" width="13.86" height="11.10" fill="#bebebe"/><rect x="324.20" y="229.50" width="13.86" height="11.10" fill="#bebebe"/><rect x="339.56" y="229.50" width="13.86" height="11.10" fill="#bebebe"/><rect x="354.92" y="229.50" width="13.86" height="11.10" fill="#bebebe"/><rect x="370.29" y="229.50" width="13.86" height="11.10" fill="#bebebe"/><rect x="385.65" y="229.50" width="13.86" height="11.10" fill="#bebebe"/><rect x="401.01" y="229.50" width="13.86" height="11.10" fill="#bebebe"/><rect x="416.38" y="229.50" width="13.86" height="11.10" fill="#bebebe"/><text x="28.6" y="237.05" text-anchor="end">4%</text><text class="g" x="433.4" y="237.05" textLength="15.18" lengthAdjust="spacingAndGlyphs">CBL</text>
<rect x="32.30" y="242.00" width="13.86" height="11.10" fill="#bebebe"/><rect x="47.66" y="242.00" width="13.86" height="11.10" fill="#bebebe"/><rect x="63.03" y="242.00" width="13.86" height="11.10" fill="#bebebe"/><rect x="78.39" y="242.00" width="13.86" height="11.10" fill="#bebebe"/><rect x="93.75" y="242.00" width="13.86" height="11.10" fill="#bebebe"/><rect x="109.11" y="242.00" width="13.86" height="11.10" fill="#bebebe"/><rect x="124.48" y="242.00" width="13.86" height="11.10" fill="#bebebe"/><rect x="139.84" y="242.00" width="13.86" height="11.10" fill="#bebebe"/><rect x="155.20" y="242.00" width="13.86" height="11.10" fill="#bebebe"/><rect x="170.57" y="242.00" width="13.86" height="11.10" fill="#bebebe"/><rect x="185.93" y="242.00" width="13.86" height="11.10" fill="#bebebe"/><rect x="201.29" y="242.00" width="13.86" height="11.10" fill="#bebebe"/><rect x="216.66" y="242.00" width="13.86" height="11.10" fill="#bebebe"/><rect x="232.02" y="242.00" width="13.86" height="11.10" fill="#bebebe"/><rect x="247.38" y="242.00" width="13.86" height="11.10" fill="#4c7dbd"/><rect x="262.75" y="242.00" width="13.86" height="11.10" fill="#bebebe"/><rect x="278.11" y="242.00" width="13.86" height="11.10" fill="#bebebe"/><rect x="293.47" y="242.00" width="13.86" height="11.10" fill="#bebebe"/><rect x="308.83" y="242.00" width="13.86" height="11.10" fill="#bebebe"/><rect x="324.20" y="242.00" width="13.86" height="11.10" fill="#bebebe"/><rect x="339.56" y="242.00" width="13.86" height="11.10" fill="#bebebe"/><rect x="354.92" y="242.00" width="13.86" height="11.10" fill="#bebebe"/><rect x="370.29" y="242.00" width="13.86" height="11.10" fill="#bebebe"/><rect x="385.65" y="242.00" width="13.86" height="11.10" fill="#bebebe"/><rect x="401.01" y="242.00" width="13.86" height="11.10" fill="#bebebe"/><rect x="416.38" y="242.00" width="13.86" height="11.10" fill="#bebebe"/><text x="28.6" y="249.55" text-anchor="end">4%</text><text class="g" x="433.4" y="249.55" textLength="17.17" lengthAdjust="spacingAndGlyphs">JAK1</text>
<rect x="32.30" y="254.50" width="13.86" height="11.10" fill="#bebebe"/><rect x="47.66" y="254.50" width="13.86" height="11.10" fill="#bebebe"/><rect x="63.03" y="254.50" width="13.86" height="11.10" fill="#bebebe"/><rect x="78.39" y="254.50" width="13.86" height="11.10" fill="#bebebe"/><rect x="93.75" y="254.50" width="13.86" height="11.10" fill="#bebebe"/><rect x="109.11" y="254.50" width="13.86" height="11.10" fill="#bebebe"/><rect x="124.48" y="254.50" width="13.86" height="11.10" fill="#bebebe"/><rect x="139.84" y="254.50" width="13.86" height="11.10" fill="#bebebe"/><rect x="155.20" y="254.50" width="13.86" height="11.10" fill="#bebebe"/><rect x="170.57" y="254.50" width="13.86" height="11.10" fill="#bebebe"/><rect x="185.93" y="254.50" width="13.86" height="11.10" fill="#bebebe"/><rect x="201.29" y="254.50" width="13.86" height="11.10" fill="#bebebe"/><rect x="216.66" y="254.50" width="13.86" height="11.10" fill="#bebebe"/><rect x="232.02" y="254.50" width="13.86" height="11.10" fill="#4c7dbd"/><rect x="247.38" y="254.50" width="13.86" height="11.10" fill="#bebebe"/><rect x="262.75" y="254.50" width="13.86" height="11.10" fill="#4c7dbd"/><rect x="278.11" y="254.50" width="13.86" height="11.10" fill="#bebebe"/><rect x="293.47" y="254.50" width="13.86" height="11.10" fill="#bebebe"/><rect x="308.83" y="254.50" width="13.86" height="11.10" fill="#bebebe"/><rect x="324.20" y="254.50" width="13.86" height="11.10" fill="#bebebe"/><rect x="339.56" y="254.50" width="13.86" height="11.10" fill="#bebebe"/><rect x="354.92" y="254.50" width="13.86" height="11.10" fill="#bebebe"/><rect x="370.29" y="254.50" width="13.86" height="11.10" fill="#bebebe"/><rect x="385.65" y="254.50" width="13.86" height="11.10" fill="#bebebe"/><rect x="401.01" y="254.50" width="13.86" height="11.10" fill="#bebebe"/><rect x="416.38" y="254.50" width="13.86" height="11.10" fill="#bebebe"/><text x="28.6" y="262.05" text-anchor="end">8%</text><text class="g" x="433.4" y="262.05" textLength="17.77" lengthAdjust="spacingAndGlyphs">JAK3</text>
<rect x="32.30" y="267.00" width="13.86" height="11.10" fill="#dadbdc"/><rect x="47.66" y="267.00" width="13.86" height="11.10" fill="#dadbdc"/><rect x="63.03" y="267.00" width="13.86" height="11.10" fill="#dadbdc"/><rect x="78.39" y="267.00" width="13.86" height="11.10" fill="#dadbdc"/><rect x="93.75" y="267.00" width="13.86" height="11.10" fill="#dadbdc"/><rect x="109.11" y="267.00" width="13.86" height="11.10" fill="#dadbdc"/><rect x="124.48" y="267.00" width="13.86" height="11.10" fill="#dadbdc"/><rect x="139.84" y="267.00" width="13.86" height="11.10" fill="#dadbdc"/><rect x="155.20" y="267.00" width="13.86" height="11.10" fill="#dadbdc"/><rect x="170.57" y="267.00" width="13.86" height="11.10" fill="#dadbdc"/><rect x="185.93" y="267.00" width="13.86" height="11.10" fill="#dadbdc"/><rect x="201.29" y="267.00" width="13.86" height="11.10" fill="#dadbdc"/><rect x="216.66" y="267.00" width="13.86" height="11.10" fill="#dadbdc"/><rect x="232.02" y="267.00" width="13.86" height="11.10" fill="#dadbdc"/><rect x="247.38" y="267.00" width="13.86" height="11.10" fill="#dadbdc"/><rect x="262.75" y="267.00" width="13.86" height="11.10" fill="#dadbdc"/><rect x="278.11" y="267.00" width="13.86" height="11.10" fill="#dd6a4b"/><rect x="293.47" y="267.00" width="13.86" height="11.10" fill="#dadbdc"/><rect x="308.83" y="267.00" width="13.86" height="11.10" fill="#dadbdc"/><rect x="324.20" y="267.00" width="13.86" height="11.10" fill="#dadbdc"/><rect x="339.56" y="267.00" width="13.86" height="11.10" fill="#dadbdc"/><rect x="354.92" y="267.00" width="13.86" height="11.10" fill="#dadbdc"/><rect x="370.29" y="267.00" width="13.86" height="11.10" fill="#dadbdc"/><rect x="385.65" y="267.00" width="13.86" height="11.10" fill="#dadbdc"/><rect x="401.01" y="267.00" width="13.86" height="11.10" fill="#dadbdc"/><rect x="416.38" y="267.00" width="13.86" height="11.10" fill="#dadbdc"/><text x="28.6" y="274.55" text-anchor="end">9%</text><text class="g" x="433.4" y="274.55">IL7R<tspan dx="0.5" dy="-0.9" style="font-size:6.8px">*</tspan></text>
<rect x="32.30" y="279.50" width="13.86" height="11.10" fill="#dadbdc"/><rect x="47.66" y="279.50" width="13.86" height="11.10" fill="#dadbdc"/><rect x="63.03" y="279.50" width="13.86" height="11.10" fill="#dadbdc"/><rect x="78.39" y="279.50" width="13.86" height="11.10" fill="#dadbdc"/><rect x="93.75" y="279.50" width="13.86" height="11.10" fill="#dadbdc"/><rect x="109.11" y="279.50" width="13.86" height="11.10" fill="#dadbdc"/><rect x="124.48" y="279.50" width="13.86" height="11.10" fill="#dadbdc"/><rect x="139.84" y="279.50" width="13.86" height="11.10" fill="#dadbdc"/><rect x="155.20" y="279.50" width="13.86" height="11.10" fill="#4c7dbd"/><rect x="170.57" y="279.50" width="13.86" height="11.10" fill="#dadbdc"/><rect x="185.93" y="279.50" width="13.86" height="11.10" fill="#dadbdc"/><rect x="201.29" y="279.50" width="13.86" height="11.10" fill="#dadbdc"/><rect x="216.66" y="279.50" width="13.86" height="11.10" fill="#dadbdc"/><rect x="232.02" y="279.50" width="13.86" height="11.10" fill="#dadbdc"/><rect x="247.38" y="279.50" width="13.86" height="11.10" fill="#dadbdc"/><rect x="262.75" y="279.50" width="13.86" height="11.10" fill="#dadbdc"/><rect x="278.11" y="279.50" width="13.86" height="11.10" fill="#c3292b"/><rect x="293.47" y="279.50" width="13.86" height="11.10" fill="#dadbdc"/><rect x="308.83" y="279.50" width="13.86" height="11.10" fill="#dadbdc"/><rect x="324.20" y="279.50" width="13.86" height="11.10" fill="#dadbdc"/><rect x="339.56" y="279.50" width="13.86" height="11.10" fill="#dadbdc"/><rect x="354.92" y="279.50" width="13.86" height="11.10" fill="#dadbdc"/><rect x="370.29" y="279.50" width="13.86" height="11.10" fill="#dadbdc"/><rect x="385.65" y="279.50" width="13.86" height="11.10" fill="#dadbdc"/><rect x="401.01" y="279.50" width="13.86" height="11.10" fill="#dadbdc"/><rect x="416.38" y="279.50" width="13.86" height="11.10" fill="#dadbdc"/><text x="28.6" y="287.05" text-anchor="end">18%</text><text class="g" x="433.4" y="287.05">NOTCH1<tspan dx="0.5" dy="-0.9" style="font-size:6.8px">*</tspan></text>
<rect x="32.30" y="292.00" width="13.86" height="11.10" fill="#dadbdc"/><rect x="47.66" y="292.00" width="13.86" height="11.10" fill="#dadbdc"/><rect x="63.03" y="292.00" width="13.86" height="11.10" fill="#dadbdc"/><rect x="78.39" y="292.00" width="13.86" height="11.10" fill="#dadbdc"/><rect x="93.75" y="292.00" width="13.86" height="11.10" fill="#dadbdc"/><rect x="109.11" y="292.00" width="13.86" height="11.10" fill="#dadbdc"/><rect x="124.48" y="292.00" width="13.86" height="11.10" fill="#dadbdc"/><rect x="139.84" y="292.00" width="13.86" height="11.10" fill="#dadbdc"/><rect x="155.20" y="292.00" width="13.86" height="11.10" fill="#dadbdc"/><rect x="170.57" y="292.00" width="13.86" height="11.10" fill="#dadbdc"/><rect x="185.93" y="292.00" width="13.86" height="11.10" fill="#dadbdc"/><rect x="201.29" y="292.00" width="13.86" height="11.10" fill="#dadbdc"/><rect x="216.66" y="292.00" width="13.86" height="11.10" fill="#dadbdc"/><rect x="232.02" y="292.00" width="13.86" height="11.10" fill="#4c7dbd"/><rect x="247.38" y="292.00" width="13.86" height="11.10" fill="#dadbdc"/><rect x="262.75" y="292.00" width="13.86" height="11.10" fill="#dadbdc"/><rect x="278.11" y="292.00" width="13.86" height="11.10" fill="#dadbdc"/><rect x="293.47" y="292.00" width="13.86" height="11.10" fill="#dadbdc"/><rect x="308.83" y="292.00" width="13.86" height="11.10" fill="#dadbdc"/><rect x="324.20" y="292.00" width="13.86" height="11.10" fill="#dadbdc"/><rect x="339.56" y="292.00" width="13.86" height="11.10" fill="#dadbdc"/><rect x="354.92" y="292.00" width="13.86" height="11.10" fill="#dadbdc"/><rect x="370.29" y="292.00" width="13.86" height="11.10" fill="#dadbdc"/><rect x="385.65" y="292.00" width="13.86" height="11.10" fill="#dadbdc"/><rect x="401.01" y="292.00" width="13.86" height="11.10" fill="#dadbdc"/><rect x="416.38" y="292.00" width="13.86" height="11.10" fill="#dadbdc"/><text x="28.6" y="299.55" text-anchor="end">9%</text><text class="g" x="433.4" y="299.55">FBXW7<tspan dx="0.5" dy="-0.9" style="font-size:6.8px">*</tspan></text>
<rect x="32.30" y="304.50" width="13.86" height="11.10" fill="#dadbdc"/><rect x="47.66" y="304.50" width="13.86" height="11.10" fill="#dadbdc"/><rect x="63.03" y="304.50" width="13.86" height="11.10" fill="#dadbdc"/><rect x="78.39" y="304.50" width="13.86" height="11.10" fill="#dadbdc"/><rect x="93.75" y="304.50" width="13.86" height="11.10" fill="#dadbdc"/><rect x="109.11" y="304.50" width="13.86" height="11.10" fill="#dadbdc"/><rect x="124.48" y="304.50" width="13.86" height="11.10" fill="#dadbdc"/><rect x="139.84" y="304.50" width="13.86" height="11.10" fill="#dadbdc"/><rect x="155.20" y="304.50" width="13.86" height="11.10" fill="#dadbdc"/><rect x="170.57" y="304.50" width="13.86" height="11.10" fill="#dadbdc"/><rect x="185.93" y="304.50" width="13.86" height="11.10" fill="#dadbdc"/><rect x="201.29" y="304.50" width="13.86" height="11.10" fill="#dadbdc"/><rect x="216.66" y="304.50" width="13.86" height="11.10" fill="#dadbdc"/><rect x="232.02" y="304.50" width="13.86" height="11.10" fill="#dadbdc"/><rect x="247.38" y="304.50" width="13.86" height="11.10" fill="#dadbdc"/><rect x="262.75" y="304.50" width="13.86" height="11.10" fill="#4c7dbd"/><rect x="278.11" y="304.50" width="13.86" height="11.10" fill="#dadbdc"/><rect x="293.47" y="304.50" width="13.86" height="11.10" fill="#dadbdc"/><rect x="308.83" y="304.50" width="13.86" height="11.10" fill="#dadbdc"/><rect x="324.20" y="304.50" width="13.86" height="11.10" fill="#dadbdc"/><rect x="339.56" y="304.50" width="13.86" height="11.10" fill="#dadbdc"/><rect x="354.92" y="304.50" width="13.86" height="11.10" fill="#dadbdc"/><rect x="370.29" y="304.50" width="13.86" height="11.10" fill="#dadbdc"/><rect x="385.65" y="304.50" width="13.86" height="11.10" fill="#dadbdc"/><rect x="401.01" y="304.50" width="13.86" height="11.10" fill="#dadbdc"/><rect x="416.38" y="304.50" width="13.86" height="11.10" fill="#dadbdc"/><text x="28.6" y="312.05" text-anchor="end">9%</text><text class="g" x="433.4" y="312.05">PTPN11<tspan dx="0.5" dy="-0.9" style="font-size:6.8px">*</tspan></text>
<rect x="32.30" y="317.00" width="13.86" height="11.10" fill="#dadbdc"/><rect x="47.66" y="317.00" width="13.86" height="11.10" fill="#dadbdc"/><rect x="63.03" y="317.00" width="13.86" height="11.10" fill="#dadbdc"/><rect x="78.39" y="317.00" width="13.86" height="11.10" fill="#dadbdc"/><rect x="93.75" y="317.00" width="13.86" height="11.10" fill="#dadbdc"/><rect x="109.11" y="317.00" width="13.86" height="11.10" fill="#dadbdc"/><rect x="124.48" y="317.00" width="13.86" height="11.10" fill="#dadbdc"/><rect x="139.84" y="317.00" width="13.86" height="11.10" fill="#dadbdc"/><rect x="155.20" y="317.00" width="13.86" height="11.10" fill="#dadbdc"/><rect x="170.57" y="317.00" width="13.86" height="11.10" fill="#a9cbe6"/><rect x="185.93" y="317.00" width="13.86" height="11.10" fill="#a9cbe6"/><rect x="201.29" y="317.00" width="13.86" height="11.10" fill="#dadbdc"/><rect x="216.66" y="317.00" width="13.86" height="11.10" fill="#dadbdc"/><rect x="232.02" y="317.00" width="13.86" height="11.10" fill="#dadbdc"/><rect x="247.38" y="317.00" width="13.86" height="11.10" fill="#dadbdc"/><rect x="262.75" y="317.00" width="13.86" height="11.10" fill="#dadbdc"/><rect x="278.11" y="317.00" width="13.86" height="11.10" fill="#dadbdc"/><rect x="293.47" y="317.00" width="13.86" height="11.10" fill="#dadbdc"/><rect x="308.83" y="317.00" width="13.86" height="11.10" fill="#dadbdc"/><rect x="324.20" y="317.00" width="13.86" height="11.10" fill="#dadbdc"/><rect x="339.56" y="317.00" width="13.86" height="11.10" fill="#dadbdc"/><rect x="354.92" y="317.00" width="13.86" height="11.10" fill="#dadbdc"/><rect x="370.29" y="317.00" width="13.86" height="11.10" fill="#dadbdc"/><rect x="385.65" y="317.00" width="13.86" height="11.10" fill="#dadbdc"/><rect x="401.01" y="317.00" width="13.86" height="11.10" fill="#dadbdc"/><rect x="416.38" y="317.00" width="13.86" height="11.10" fill="#dadbdc"/><text x="28.6" y="324.55" text-anchor="end">18%</text><text class="g" x="433.4" y="324.55">ZNF703<tspan dx="0.5" dy="-0.9" style="font-size:6.8px">*</tspan></text>
<rect x="32.30" y="329.50" width="13.86" height="11.10" fill="#dadbdc"/><rect x="47.66" y="329.50" width="13.86" height="11.10" fill="#dadbdc"/><rect x="63.03" y="329.50" width="13.86" height="11.10" fill="#a9cbe6"/><rect x="78.39" y="329.50" width="13.86" height="11.10" fill="#dadbdc"/><rect x="93.75" y="329.50" width="13.86" height="11.10" fill="#dadbdc"/><rect x="109.11" y="329.50" width="13.86" height="11.10" fill="#dadbdc"/><rect x="124.48" y="329.50" width="13.86" height="11.10" fill="#dadbdc"/><rect x="139.84" y="329.50" width="13.86" height="11.10" fill="#dadbdc"/><rect x="155.20" y="329.50" width="13.86" height="11.10" fill="#dadbdc"/><rect x="170.57" y="329.50" width="13.86" height="11.10" fill="#dadbdc"/><rect x="185.93" y="329.50" width="13.86" height="11.10" fill="#dadbdc"/><rect x="201.29" y="329.50" width="13.86" height="11.10" fill="#dadbdc"/><rect x="216.66" y="329.50" width="13.86" height="11.10" fill="#dadbdc"/><rect x="232.02" y="329.50" width="13.86" height="11.10" fill="#dadbdc"/><rect x="247.38" y="329.50" width="13.86" height="11.10" fill="#dadbdc"/><rect x="262.75" y="329.50" width="13.86" height="11.10" fill="#dadbdc"/><rect x="278.11" y="329.50" width="13.86" height="11.10" fill="#dadbdc"/><rect x="293.47" y="329.50" width="13.86" height="11.10" fill="#dadbdc"/><rect x="308.83" y="329.50" width="13.86" height="11.10" fill="#dadbdc"/><rect x="324.20" y="329.50" width="13.86" height="11.10" fill="#dadbdc"/><rect x="339.56" y="329.50" width="13.86" height="11.10" fill="#dadbdc"/><rect x="354.92" y="329.50" width="13.86" height="11.10" fill="#dadbdc"/><rect x="370.29" y="329.50" width="13.86" height="11.10" fill="#dadbdc"/><rect x="385.65" y="329.50" width="13.86" height="11.10" fill="#dadbdc"/><rect x="401.01" y="329.50" width="13.86" height="11.10" fill="#dadbdc"/><rect x="416.38" y="329.50" width="13.86" height="11.10" fill="#dadbdc"/><text x="28.6" y="337.05" text-anchor="end">9%</text><text class="g" x="433.4" y="337.05"><tspan textLength="14.89" lengthAdjust="spacingAndGlyphs">MYC</tspan><tspan dx="0.5" dy="-0.9" style="font-size:6.8px">*</tspan></text>
<rect x="32.30" y="342.00" width="13.86" height="11.10" fill="#bebebe"/><rect x="47.66" y="342.00" width="13.86" height="11.10" fill="#bebebe"/><rect x="63.03" y="342.00" width="13.86" height="11.10" fill="#bebebe"/><rect x="78.39" y="342.00" width="13.86" height="11.10" fill="#bebebe"/><rect x="93.75" y="342.00" width="13.86" height="11.10" fill="#bebebe"/><rect x="109.11" y="342.00" width="13.86" height="11.10" fill="#bebebe"/><rect x="124.48" y="342.00" width="13.86" height="11.10" fill="#bebebe"/><rect x="139.84" y="342.00" width="13.86" height="11.10" fill="#bebebe"/><rect x="155.20" y="342.00" width="13.86" height="11.10" fill="#bebebe"/><rect x="170.57" y="342.00" width="13.86" height="11.10" fill="#e69a38"/><rect x="185.93" y="342.00" width="13.86" height="11.10" fill="#bebebe"/><rect x="201.29" y="342.00" width="13.86" height="11.10" fill="#bebebe"/><rect x="216.66" y="342.00" width="13.86" height="11.10" fill="#bebebe"/><rect x="232.02" y="342.00" width="13.86" height="11.10" fill="#bebebe"/><rect x="247.38" y="342.00" width="13.86" height="11.10" fill="#bebebe"/><rect x="262.75" y="342.00" width="13.86" height="11.10" fill="#bebebe"/><rect x="278.11" y="342.00" width="13.86" height="11.10" fill="#bebebe"/><rect x="293.47" y="342.00" width="13.86" height="11.10" fill="#bebebe"/><rect x="308.83" y="342.00" width="13.86" height="11.10" fill="#bebebe"/><rect x="324.20" y="342.00" width="13.86" height="11.10" fill="#bebebe"/><rect x="339.56" y="342.00" width="13.86" height="11.10" fill="#bebebe"/><rect x="354.92" y="342.00" width="13.86" height="11.10" fill="#bebebe"/><rect x="370.29" y="342.00" width="13.86" height="11.10" fill="#bebebe"/><rect x="385.65" y="342.00" width="13.86" height="11.10" fill="#bebebe"/><rect x="401.01" y="342.00" width="13.86" height="11.10" fill="#bebebe"/><rect x="416.38" y="342.00" width="13.86" height="11.10" fill="#bebebe"/><text x="28.6" y="349.55" text-anchor="end">4%</text><text class="g" x="433.4" y="349.55" textLength="63.83" lengthAdjust="spacingAndGlyphs">MLL−PTD (ex 4−8)</text>
<rect x="32.30" y="354.50" width="13.86" height="11.10" fill="#bebebe"/><rect x="47.66" y="354.50" width="13.86" height="11.10" fill="#bebebe"/><rect x="63.03" y="354.50" width="13.86" height="11.10" fill="#bebebe"/><rect x="78.39" y="354.50" width="13.86" height="11.10" fill="#bebebe"/><rect x="93.75" y="354.50" width="13.86" height="11.10" fill="#bebebe"/><rect x="109.11" y="354.50" width="13.86" height="11.10" fill="#bebebe"/><rect x="124.48" y="354.50" width="13.86" height="11.10" fill="#bebebe"/><rect x="139.84" y="354.50" width="13.86" height="11.10" fill="#bebebe"/><rect x="155.20" y="354.50" width="13.86" height="11.10" fill="#e69a38"/><rect x="170.57" y="354.50" width="13.86" height="11.10" fill="#bebebe"/><rect x="185.93" y="354.50" width="13.86" height="11.10" fill="#bebebe"/><rect x="201.29" y="354.50" width="13.86" height="11.10" fill="#bebebe"/><rect x="216.66" y="354.50" width="13.86" height="11.10" fill="#bebebe"/><rect x="232.02" y="354.50" width="13.86" height="11.10" fill="#bebebe"/><rect x="247.38" y="354.50" width="13.86" height="11.10" fill="#bebebe"/><rect x="262.75" y="354.50" width="13.86" height="11.10" fill="#bebebe"/><rect x="278.11" y="354.50" width="13.86" height="11.10" fill="#bebebe"/><rect x="293.47" y="354.50" width="13.86" height="11.10" fill="#bebebe"/><rect x="308.83" y="354.50" width="13.86" height="11.10" fill="#bebebe"/><rect x="324.20" y="354.50" width="13.86" height="11.10" fill="#bebebe"/><rect x="339.56" y="354.50" width="13.86" height="11.10" fill="#bebebe"/><rect x="354.92" y="354.50" width="13.86" height="11.10" fill="#bebebe"/><rect x="370.29" y="354.50" width="13.86" height="11.10" fill="#bebebe"/><rect x="385.65" y="354.50" width="13.86" height="11.10" fill="#bebebe"/><rect x="401.01" y="354.50" width="13.86" height="11.10" fill="#bebebe"/><rect x="416.38" y="354.50" width="13.86" height="11.10" fill="#bebebe"/><text x="28.6" y="362.05" text-anchor="end">4%</text><text class="g" x="433.4" y="362.05" textLength="52.85" lengthAdjust="spacingAndGlyphs">ETV6−RUNX1+</text>
<rect x="32.30" y="367.00" width="13.86" height="11.10" fill="#bebebe"/><rect x="47.66" y="367.00" width="13.86" height="11.10" fill="#bebebe"/><rect x="63.03" y="367.00" width="13.86" height="11.10" fill="#bebebe"/><rect x="78.39" y="367.00" width="13.86" height="11.10" fill="#bebebe"/><rect x="93.75" y="367.00" width="13.86" height="11.10" fill="#bebebe"/><rect x="109.11" y="367.00" width="13.86" height="11.10" fill="#bebebe"/><rect x="124.48" y="367.00" width="13.86" height="11.10" fill="#bebebe"/><rect x="139.84" y="367.00" width="13.86" height="11.10" fill="#bebebe"/><rect x="155.20" y="367.00" width="13.86" height="11.10" fill="#bebebe"/><rect x="170.57" y="367.00" width="13.86" height="11.10" fill="#e69a38"/><rect x="185.93" y="367.00" width="13.86" height="11.10" fill="#bebebe"/><rect x="201.29" y="367.00" width="13.86" height="11.10" fill="#bebebe"/><rect x="216.66" y="367.00" width="13.86" height="11.10" fill="#bebebe"/><rect x="232.02" y="367.00" width="13.86" height="11.10" fill="#bebebe"/><rect x="247.38" y="367.00" width="13.86" height="11.10" fill="#bebebe"/><rect x="262.75" y="367.00" width="13.86" height="11.10" fill="#bebebe"/><rect x="278.11" y="367.00" width="13.86" height="11.10" fill="#bebebe"/><rect x="293.47" y="367.00" width="13.86" height="11.10" fill="#bebebe"/><rect x="308.83" y="367.00" width="13.86" height="11.10" fill="#bebebe"/><rect x="324.20" y="367.00" width="13.86" height="11.10" fill="#bebebe"/><rect x="339.56" y="367.00" width="13.86" height="11.10" fill="#bebebe"/><rect x="354.92" y="367.00" width="13.86" height="11.10" fill="#bebebe"/><rect x="370.29" y="367.00" width="13.86" height="11.10" fill="#bebebe"/><rect x="385.65" y="367.00" width="13.86" height="11.10" fill="#bebebe"/><rect x="401.01" y="367.00" width="13.86" height="11.10" fill="#bebebe"/><rect x="416.38" y="367.00" width="13.86" height="11.10" fill="#bebebe"/><text x="28.6" y="374.55" text-anchor="end">4%</text><text class="g" x="433.4" y="374.55" textLength="52.14" lengthAdjust="spacingAndGlyphs">SSBP2−JAK2+</text>
<rect x="32.30" y="379.50" width="13.86" height="11.10" fill="#bebebe"/><rect x="47.66" y="379.50" width="13.86" height="11.10" fill="#bebebe"/><rect x="63.03" y="379.50" width="13.86" height="11.10" fill="#bebebe"/><rect x="78.39" y="379.50" width="13.86" height="11.10" fill="#bebebe"/><rect x="93.75" y="379.50" width="13.86" height="11.10" fill="#bebebe"/><rect x="109.11" y="379.50" width="13.86" height="11.10" fill="#bebebe"/><rect x="124.48" y="379.50" width="13.86" height="11.10" fill="#bebebe"/><rect x="139.84" y="379.50" width="13.86" height="11.10" fill="#e69a38"/><rect x="155.20" y="379.50" width="13.86" height="11.10" fill="#bebebe"/><rect x="170.57" y="379.50" width="13.86" height="11.10" fill="#bebebe"/><rect x="185.93" y="379.50" width="13.86" height="11.10" fill="#bebebe"/><rect x="201.29" y="379.50" width="13.86" height="11.10" fill="#bebebe"/><rect x="216.66" y="379.50" width="13.86" height="11.10" fill="#bebebe"/><rect x="232.02" y="379.50" width="13.86" height="11.10" fill="#bebebe"/><rect x="247.38" y="379.50" width="13.86" height="11.10" fill="#bebebe"/><rect x="262.75" y="379.50" width="13.86" height="11.10" fill="#bebebe"/><rect x="278.11" y="379.50" width="13.86" height="11.10" fill="#bebebe"/><rect x="293.47" y="379.50" width="13.86" height="11.10" fill="#bebebe"/><rect x="308.83" y="379.50" width="13.86" height="11.10" fill="#bebebe"/><rect x="324.20" y="379.50" width="13.86" height="11.10" fill="#bebebe"/><rect x="339.56" y="379.50" width="13.86" height="11.10" fill="#bebebe"/><rect x="354.92" y="379.50" width="13.86" height="11.10" fill="#bebebe"/><rect x="370.29" y="379.50" width="13.86" height="11.10" fill="#bebebe"/><rect x="385.65" y="379.50" width="13.86" height="11.10" fill="#bebebe"/><rect x="401.01" y="379.50" width="13.86" height="11.10" fill="#bebebe"/><rect x="416.38" y="379.50" width="13.86" height="11.10" fill="#bebebe"/><text x="28.6" y="387.05" text-anchor="end">4%</text><text class="g" x="433.4" y="387.05" textLength="53.54" lengthAdjust="spacingAndGlyphs">NUP98-NSD1+</text>
<rect x="32.30" y="392.00" width="13.86" height="11.10" fill="#bebebe"/><rect x="47.66" y="392.00" width="13.86" height="11.10" fill="#bebebe"/><rect x="63.03" y="392.00" width="13.86" height="11.10" fill="#bebebe"/><rect x="78.39" y="392.00" width="13.86" height="11.10" fill="#bebebe"/><rect x="93.75" y="392.00" width="13.86" height="11.10" fill="#bebebe"/><rect x="109.11" y="392.00" width="13.86" height="11.10" fill="#bebebe"/><rect x="124.48" y="392.00" width="13.86" height="11.10" fill="#bebebe"/><rect x="139.84" y="392.00" width="13.86" height="11.10" fill="#bebebe"/><rect x="155.20" y="392.00" width="13.86" height="11.10" fill="#bebebe"/><rect x="170.57" y="392.00" width="13.86" height="11.10" fill="#bebebe"/><rect x="185.93" y="392.00" width="13.86" height="11.10" fill="#bebebe"/><rect x="201.29" y="392.00" width="13.86" height="11.10" fill="#bebebe"/><rect x="216.66" y="392.00" width="13.86" height="11.10" fill="#bebebe"/><rect x="232.02" y="392.00" width="13.86" height="11.10" fill="#bebebe"/><rect x="247.38" y="392.00" width="13.86" height="11.10" fill="#bebebe"/><rect x="262.75" y="392.00" width="13.86" height="11.10" fill="#e69a38"/><rect x="278.11" y="392.00" width="13.86" height="11.10" fill="#bebebe"/><rect x="293.47" y="392.00" width="13.86" height="11.10" fill="#bebebe"/><rect x="308.83" y="392.00" width="13.86" height="11.10" fill="#bebebe"/><rect x="324.20" y="392.00" width="13.86" height="11.10" fill="#bebebe"/><rect x="339.56" y="392.00" width="13.86" height="11.10" fill="#bebebe"/><rect x="354.92" y="392.00" width="13.86" height="11.10" fill="#bebebe"/><rect x="370.29" y="392.00" width="13.86" height="11.10" fill="#bebebe"/><rect x="385.65" y="392.00" width="13.86" height="11.10" fill="#bebebe"/><rect x="401.01" y="392.00" width="13.86" height="11.10" fill="#bebebe"/><rect x="416.38" y="392.00" width="13.86" height="11.10" fill="#bebebe"/><text x="28.6" y="399.55" text-anchor="end">4%</text><text class="g" x="433.4" y="399.55">SET−NUP214+</text>
<rect x="32.30" y="404.50" width="13.86" height="11.10" fill="#bebebe"/><rect x="47.66" y="404.50" width="13.86" height="11.10" fill="#bebebe"/><rect x="63.03" y="404.50" width="13.86" height="11.10" fill="#bebebe"/><rect x="78.39" y="404.50" width="13.86" height="11.10" fill="#bebebe"/><rect x="93.75" y="404.50" width="13.86" height="11.10" fill="#bebebe"/><rect x="109.11" y="404.50" width="13.86" height="11.10" fill="#bebebe"/><rect x="124.48" y="404.50" width="13.86" height="11.10" fill="#bebebe"/><rect x="139.84" y="404.50" width="13.86" height="11.10" fill="#bebebe"/><rect x="155.20" y="404.50" width="13.86" height="11.10" fill="#bebebe"/><rect x="170.57" y="404.50" width="13.86" height="11.10" fill="#bebebe"/><rect x="185.93" y="404.50" width="13.86" height="11.10" fill="#bebebe"/><rect x="201.29" y="404.50" width="13.86" height="11.10" fill="#bebebe"/><rect x="216.66" y="404.50" width="13.86" height="11.10" fill="#e69a38"/><rect x="232.02" y="404.50" width="13.86" height="11.10" fill="#bebebe"/><rect x="247.38" y="404.50" width="13.86" height="11.10" fill="#bebebe"/><rect x="262.75" y="404.50" width="13.86" height="11.10" fill="#bebebe"/><rect x="278.11" y="404.50" width="13.86" height="11.10" fill="#bebebe"/><rect x="293.47" y="404.50" width="13.86" height="11.10" fill="#bebebe"/><rect x="308.83" y="404.50" width="13.86" height="11.10" fill="#bebebe"/><rect x="324.20" y="404.50" width="13.86" height="11.10" fill="#bebebe"/><rect x="339.56" y="404.50" width="13.86" height="11.10" fill="#bebebe"/><rect x="354.92" y="404.50" width="13.86" height="11.10" fill="#e69a38"/><rect x="370.29" y="404.50" width="13.86" height="11.10" fill="#bebebe"/><rect x="385.65" y="404.50" width="13.86" height="11.10" fill="#bebebe"/><rect x="401.01" y="404.50" width="13.86" height="11.10" fill="#bebebe"/><rect x="416.38" y="404.50" width="13.86" height="11.10" fill="#bebebe"/><text x="28.6" y="412.05" text-anchor="end">9%</text><text class="g" x="433.4" y="412.05">PICALM−MLLT10+</text>
<rect x="32.30" y="417.00" width="13.86" height="11.10" fill="#bebebe"/><rect x="47.66" y="417.00" width="13.86" height="11.10" fill="#bebebe"/><rect x="63.03" y="417.00" width="13.86" height="11.10" fill="#bebebe"/><rect x="78.39" y="417.00" width="13.86" height="11.10" fill="#bebebe"/><rect x="93.75" y="417.00" width="13.86" height="11.10" fill="#bebebe"/><rect x="109.11" y="417.00" width="13.86" height="11.10" fill="#bebebe"/><rect x="124.48" y="417.00" width="13.86" height="11.10" fill="#bebebe"/><rect x="139.84" y="417.00" width="13.86" height="11.10" fill="#bebebe"/><rect x="155.20" y="417.00" width="13.86" height="11.10" fill="#bebebe"/><rect x="170.57" y="417.00" width="13.86" height="11.10" fill="#bebebe"/><rect x="185.93" y="417.00" width="13.86" height="11.10" fill="#bebebe"/><rect x="201.29" y="417.00" width="13.86" height="11.10" fill="#bebebe"/><rect x="216.66" y="417.00" width="13.86" height="11.10" fill="#bebebe"/><rect x="232.02" y="417.00" width="13.86" height="11.10" fill="#e69a38"/><rect x="247.38" y="417.00" width="13.86" height="11.10" fill="#bebebe"/><rect x="262.75" y="417.00" width="13.86" height="11.10" fill="#bebebe"/><rect x="278.11" y="417.00" width="13.86" height="11.10" fill="#bebebe"/><rect x="293.47" y="417.00" width="13.86" height="11.10" fill="#bebebe"/><rect x="308.83" y="417.00" width="13.86" height="11.10" fill="#bebebe"/><rect x="324.20" y="417.00" width="13.86" height="11.10" fill="#bebebe"/><rect x="339.56" y="417.00" width="13.86" height="11.10" fill="#bebebe"/><rect x="354.92" y="417.00" width="13.86" height="11.10" fill="#bebebe"/><rect x="370.29" y="417.00" width="13.86" height="11.10" fill="#bebebe"/><rect x="385.65" y="417.00" width="13.86" height="11.10" fill="#bebebe"/><rect x="401.01" y="417.00" width="13.86" height="11.10" fill="#bebebe"/><rect x="416.38" y="417.00" width="13.86" height="11.10" fill="#bebebe"/><text x="28.6" y="424.55" text-anchor="end">4%</text><text class="g" x="433.4" y="424.55" textLength="65.55" lengthAdjust="spacingAndGlyphs">SEM4B−BCL11A+</text>
<rect x="32.30" y="429.50" width="13.86" height="11.10" fill="#e69a38"/><rect x="47.66" y="429.50" width="13.86" height="11.10" fill="#e69a38"/><rect x="63.03" y="429.50" width="13.86" height="11.10" fill="#e69a38"/><rect x="78.39" y="429.50" width="13.86" height="11.10" fill="#bebebe"/><rect x="93.75" y="429.50" width="13.86" height="11.10" fill="#bebebe"/><rect x="109.11" y="429.50" width="13.86" height="11.10" fill="#bebebe"/><rect x="124.48" y="429.50" width="13.86" height="11.10" fill="#bebebe"/><rect x="139.84" y="429.50" width="13.86" height="11.10" fill="#bebebe"/><rect x="155.20" y="429.50" width="13.86" height="11.10" fill="#bebebe"/><rect x="170.57" y="429.50" width="13.86" height="11.10" fill="#bebebe"/><rect x="185.93" y="429.50" width="13.86" height="11.10" fill="#bebebe"/><rect x="201.29" y="429.50" width="13.86" height="11.10" fill="#bebebe"/><rect x="216.66" y="429.50" width="13.86" height="11.10" fill="#bebebe"/><rect x="232.02" y="429.50" width="13.86" height="11.10" fill="#bebebe"/><rect x="247.38" y="429.50" width="13.86" height="11.10" fill="#bebebe"/><rect x="262.75" y="429.50" width="13.86" height="11.10" fill="#bebebe"/><rect x="278.11" y="429.50" width="13.86" height="11.10" fill="#bebebe"/><rect x="293.47" y="429.50" width="13.86" height="11.10" fill="#bebebe"/><rect x="308.83" y="429.50" width="13.86" height="11.10" fill="#bebebe"/><rect x="324.20" y="429.50" width="13.86" height="11.10" fill="#bebebe"/><rect x="339.56" y="429.50" width="13.86" height="11.10" fill="#bebebe"/><rect x="354.92" y="429.50" width="13.86" height="11.10" fill="#bebebe"/><rect x="370.29" y="429.50" width="13.86" height="11.10" fill="#bebebe"/><rect x="385.65" y="429.50" width="13.86" height="11.10" fill="#bebebe"/><rect x="401.01" y="429.50" width="13.86" height="11.10" fill="#bebebe"/><rect x="416.38" y="429.50" width="13.86" height="11.10" fill="#bebebe"/><text x="28.6" y="437.05" text-anchor="end">12%</text><text class="g" x="433.4" y="437.05">MLL<tspan style="font-size:7.2px"> rearrangement</tspan></text>
<rect x="32.30" y="442.00" width="13.86" height="11.10" fill="#bebebe"/><rect x="47.66" y="442.00" width="13.86" height="11.10" fill="#bebebe"/><rect x="63.03" y="442.00" width="13.86" height="11.10" fill="#bebebe"/><rect x="78.39" y="442.00" width="13.86" height="11.10" fill="#e69a38"/><rect x="93.75" y="442.00" width="13.86" height="11.10" fill="#e69a38"/><rect x="109.11" y="442.00" width="13.86" height="11.10" fill="#e69a38"/><rect x="124.48" y="442.00" width="13.86" height="11.10" fill="#bebebe"/><rect x="139.84" y="442.00" width="13.86" height="11.10" fill="#bebebe"/><rect x="155.20" y="442.00" width="13.86" height="11.10" fill="#bebebe"/><rect x="170.57" y="442.00" width="13.86" height="11.10" fill="#bebebe"/><rect x="185.93" y="442.00" width="13.86" height="11.10" fill="#bebebe"/><rect x="201.29" y="442.00" width="13.86" height="11.10" fill="#bebebe"/><rect x="216.66" y="442.00" width="13.86" height="11.10" fill="#bebebe"/><rect x="232.02" y="442.00" width="13.86" height="11.10" fill="#bebebe"/><rect x="247.38" y="442.00" width="13.86" height="11.10" fill="#bebebe"/><rect x="262.75" y="442.00" width="13.86" height="11.10" fill="#bebebe"/><rect x="278.11" y="442.00" width="13.86" height="11.10" fill="#bebebe"/><rect x="293.47" y="442.00" width="13.86" height="11.10" fill="#bebebe"/><rect x="308.83" y="442.00" width="13.86" height="11.10" fill="#bebebe"/><rect x="324.20" y="442.00" width="13.86" height="11.10" fill="#bebebe"/><rect x="339.56" y="442.00" width="13.86" height="11.10" fill="#bebebe"/><rect x="354.92" y="442.00" width="13.86" height="11.10" fill="#bebebe"/><rect x="370.29" y="442.00" width="13.86" height="11.10" fill="#bebebe"/><rect x="385.65" y="442.00" width="13.86" height="11.10" fill="#bebebe"/><rect x="401.01" y="442.00" width="13.86" height="11.10" fill="#bebebe"/><rect x="416.38" y="442.00" width="13.86" height="11.10" fill="#bebebe"/><text x="28.6" y="449.55" text-anchor="end">12%</text><text class="g" x="433.4" y="449.55" textLength="45.01" lengthAdjust="spacingAndGlyphs">BCR−ABL1+</text>
<text x="39.23" y="462.6" text-anchor="middle">1</text><text x="54.59" y="462.6" text-anchor="middle">2</text><text x="69.96" y="462.6" text-anchor="middle">3</text><text x="85.32" y="462.6" text-anchor="middle">4</text><text x="100.68" y="462.6" text-anchor="middle">5</text><text x="116.05" y="462.6" text-anchor="middle">6</text><text x="131.41" y="462.6" text-anchor="middle">7</text><text x="146.77" y="462.6" text-anchor="middle">8</text><text x="162.14" y="462.6" text-anchor="middle">9</text><text x="177.50" y="462.6" text-anchor="middle">10</text><text x="192.86" y="462.6" text-anchor="middle">11</text><text x="208.22" y="462.6" text-anchor="middle">12</text><text x="223.59" y="462.6" text-anchor="middle">13</text><text x="238.95" y="462.6" text-anchor="middle">14</text><text x="254.31" y="462.6" text-anchor="middle">15</text><text x="269.68" y="462.6" text-anchor="middle">16</text><text x="285.04" y="462.6" text-anchor="middle">17</text><text x="300.40" y="462.6" text-anchor="middle">18</text><text x="315.77" y="462.6" text-anchor="middle">19</text><text x="331.13" y="462.6" text-anchor="middle">20</text><text x="346.49" y="462.6" text-anchor="middle">21</text><text x="361.85" y="462.6" text-anchor="middle">22</text><text x="377.22" y="462.6" text-anchor="middle">23</text><text x="392.58" y="462.6" text-anchor="middle">24</text><text x="407.94" y="462.6" text-anchor="middle">25</text><text x="423.31" y="462.6" text-anchor="middle">26</text>
<rect x="32.40" y="471.10" width="183.40" height="4.6" fill="#f3f4f4"/><rect x="215.80" y="471.10" width="214.50" height="4.6" fill="#2a4494"/><rect x="32.40" y="475.90" width="183.40" height="4.6" fill="#6cb7c8"/><rect x="215.80" y="475.90" width="15.35" height="4.6" fill="#fbfbfb"/><rect x="231.15" y="475.90" width="15.35" height="4.6" fill="#6cb7c8"/><rect x="246.50" y="475.90" width="15.35" height="4.6" fill="#fbfbfb"/><rect x="261.85" y="475.90" width="30.70" height="4.6" fill="#6cb7c8"/><rect x="292.55" y="475.90" width="137.75" height="4.6" fill="#fbfbfb"/><rect x="32.40" y="480.95" width="229.45" height="4.6" fill="#7b0041"/><rect x="261.85" y="480.95" width="15.35" height="4.6" fill="#f4f4f4"/><rect x="277.20" y="480.95" width="153.10" height="4.6" fill="#7b0041"/><rect x="32.40" y="485.70" width="14.55" height="4.6" fill="#f5dedb"/><rect x="46.95" y="485.70" width="46.05" height="4.6" fill="#aa2089"/><rect x="93.00" y="485.70" width="61.40" height="4.6" fill="#f5dedb"/><rect x="154.40" y="485.70" width="46.05" height="4.6" fill="#aa2089"/><rect x="200.45" y="485.70" width="15.35" height="4.6" fill="#f5dedb"/><rect x="215.80" y="485.70" width="76.75" height="4.6" fill="#aa2089"/><rect x="292.55" y="485.70" width="137.75" height="4.6" fill="#f5dedb"/>
<text class="l" x="104.5" y="507.6">T−Blast</text><rect x="137.8" y="498.0" width="3.8" height="3.8" fill="#2a4494"/><rect x="137.8" y="508.7" width="3.8" height="3.8" fill="#f1f1f1"/><text class="l" x="145" y="502.9">YES</text><text class="l" x="145" y="513.4">NO</text>
<text class="l" x="169.3" y="507.6">B−Blast</text><rect x="199.3" y="498.0" width="3.8" height="3.8" fill="#6cb7c8"/><rect x="199.3" y="508.7" width="3.8" height="3.8" fill="#f6f6f6"/><text class="l" x="206.5" y="502.9">YES</text><text class="l" x="206.5" y="513.4">NO</text>
<text class="l" x="227.5" y="507.6">M−Blast</text><rect x="257.8" y="498.0" width="3.8" height="3.8" fill="#7b0041"/><rect x="257.8" y="508.7" width="3.8" height="3.8" fill="#e2e2e2"/><text class="l" x="265" y="502.9">YES</text><text class="l" x="265" y="513.4">NO</text>
<text class="l" x="292" y="507.6">Assay</text><rect x="316.0" y="498.0" width="3.8" height="3.8" fill="#f5dedb"/><rect x="316.0" y="508.7" width="3.8" height="3.8" fill="#aa2089"/><text class="l" x="323.2" y="502.9">Raindance</text><text class="l" x="323.2" y="513.4">Foundation</text>
<text class="t" x="462" y="170.5">Mutation Type</text><rect x="462.2" y="176.95" width="3.8" height="3.8" fill="#4c7dbd"/><text class="l" style="font-size:7.25px" x="469.2" y="181.35">Missense</text><rect x="462.2" y="185.89" width="3.8" height="3.8" fill="#a9cbe6"/><text class="l" style="font-size:7.25px" x="469.2" y="190.29" textLength="43.9" lengthAdjust="spacingAndGlyphs">In-frame Indel</text><rect x="462.2" y="194.83" width="3.8" height="3.8" fill="#dd6a4b"/><text class="l" style="font-size:7.25px" x="469.2" y="199.23">Insertion</text><rect x="462.2" y="203.77" width="3.8" height="3.8" fill="#c3292b"/><text class="l" style="font-size:7.25px" x="469.2" y="208.17">Deletion</text><rect x="462.2" y="212.71" width="3.8" height="3.8" fill="#eca78d"/><text class="l" style="font-size:7.25px" x="469.2" y="217.11">Splice Site</text><rect x="462.2" y="221.65" width="3.8" height="3.8" fill="#dd6a4b"/><text class="l" style="font-size:7.25px" x="469.2" y="226.05">Complex</text><rect x="462.2" y="230.59" width="3.8" height="3.8" fill="#8d121c"/><text class="l" style="font-size:7.25px" x="469.2" y="234.99">Nonsense</text><rect x="462.2" y="239.53" width="3.8" height="3.8" fill="#6a5fb0"/><text class="l" style="font-size:7.25px" x="469.2" y="243.93">Duplication</text><rect x="462.2" y="248.47" width="3.8" height="3.8" fill="#e69a38"/><text class="l" style="font-size:7.25px" x="469.2" y="252.87">Fusion</text>
</svg></body></html>
